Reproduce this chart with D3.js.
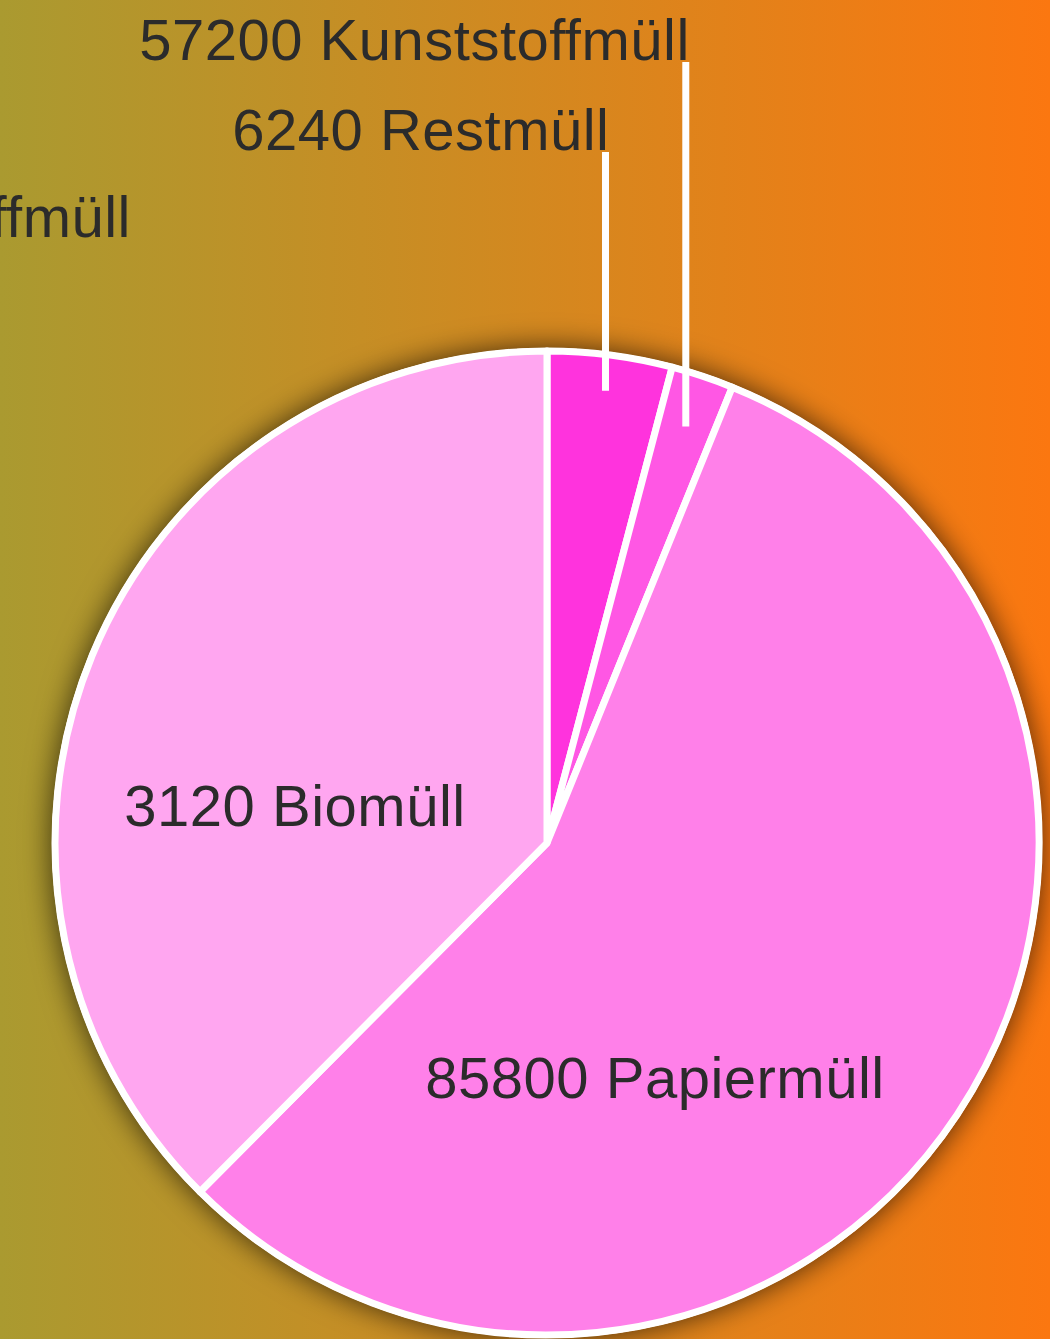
<!DOCTYPE html>
<html>
<head>
<meta charset="utf-8">
<script src="https://cdn.jsdelivr.net/npm/d3@7"></script>
<style>
  html, body { margin: 0; padding: 0; overflow: hidden; }
  svg { display: block; }
  .label { font-family: "Liberation Sans", Arial, sans-serif; font-size: 58px; fill: #2b2b2b; letter-spacing: 0.5px; }
</style>
</head>
<body>
<div id="chart"></div>
<script>
// slice data (drawn in this order, clockwise from 12 o'clock)
const categories = ["Restmüll", "Kunststoffmüll", "Papiermüll", "Biomüll"];
const values = [6240, 3120, 85800, 57200];
// label texts as shown in the chart
const labelTexts = ["6240 Restmüll", "57200 Kunststoffmüll", "85800 Papiermüll", "3120 Biomüll"];
const strayLabel = "Kunststoffmüll";

const colors = ["#ff33dd", "#ff57e4", "#ff80e9", "#ffa6f0"];

const WIDTH = 1050, HEIGHT = 1339;
const cx = 547, cy = 843, R = 492;

const svg = d3.select("#chart").append("svg")
  .attr("width", WIDTH)
  .attr("height", HEIGHT);

const defs = svg.append("defs");
const grad = defs.append("linearGradient")
  .attr("id", "bg")
  .attr("x1", "0%").attr("x2", "100%").attr("y1", "0%").attr("y2", "0%");
grad.append("stop").attr("offset", "0%").attr("stop-color", "#aa9a30");
grad.append("stop").attr("offset", "100%").attr("stop-color", "#fb7710");

const shadow = defs.append("filter")
  .attr("id", "shadow")
  .attr("x", "-20%").attr("y", "-20%").attr("width", "140%").attr("height", "140%");
shadow.append("feDropShadow")
  .attr("dx", 0).attr("dy", 0)
  .attr("stdDeviation", 15)
  .attr("flood-color", "#000")
  .attr("flood-opacity", 0.7);

svg.append("rect")
  .attr("width", WIDTH).attr("height", HEIGHT)
  .attr("fill", "url(#bg)");

const pie = d3.pie().sort(null).value(d => d);
const arcs = pie(values);
const arc = d3.arc().innerRadius(0).outerRadius(R);

const g = svg.append("g").attr("transform", `translate(${cx},${cy})`);

// shadow behind the pie
g.append("circle")
  .attr("r", R + 3)
  .attr("fill", "#fff")
  .attr("filter", "url(#shadow)");

g.selectAll(".slice")
  .data(arcs)
  .enter()
  .append("path")
  .attr("class", "slice")
  .attr("d", arc)
  .attr("fill", (d, i) => colors[i])
  .attr("stroke", "#fff")
  .attr("stroke-width", 7)
  .attr("stroke-linejoin", "round");

// outer labels with vertical leader lines for the two thin slices
const leaderR = [456, 439];
const labelTop = [152, 62];
arcs.slice(0, 2).forEach((d, i) => {
  const c = d3.arc().innerRadius(leaderR[i]).outerRadius(leaderR[i]).centroid(d);
  const x = cx + c[0], y = cy + c[1];
  svg.append("line")
    .attr("x1", x).attr("x2", x)
    .attr("y1", labelTop[i]).attr("y2", y)
    .attr("stroke", "#fff")
    .attr("stroke-width", 7);
  svg.append("text")
    .attr("class", "label")
    .attr("x", x + 4)
    .attr("y", labelTop[i] - 2)
    .attr("text-anchor", "end")
    .text(labelTexts[i]);
});

// inner labels
const innerPos = [null, null, [108, 255], [-252, -17]];
[2, 3].forEach(i => {
  g.append("text")
    .attr("class", "label")
    .attr("x", innerPos[i][0])
    .attr("y", innerPos[i][1])
    .attr("text-anchor", "middle")
    .text(labelTexts[i]);
});

// label that sits mostly off the left edge (cut off in the original too)
svg.append("text")
  .attr("class", "label")
  .attr("x", 131)
  .attr("y", 237)
  .attr("text-anchor", "end")
  .text(strayLabel);
</script>
</body>
</html>
